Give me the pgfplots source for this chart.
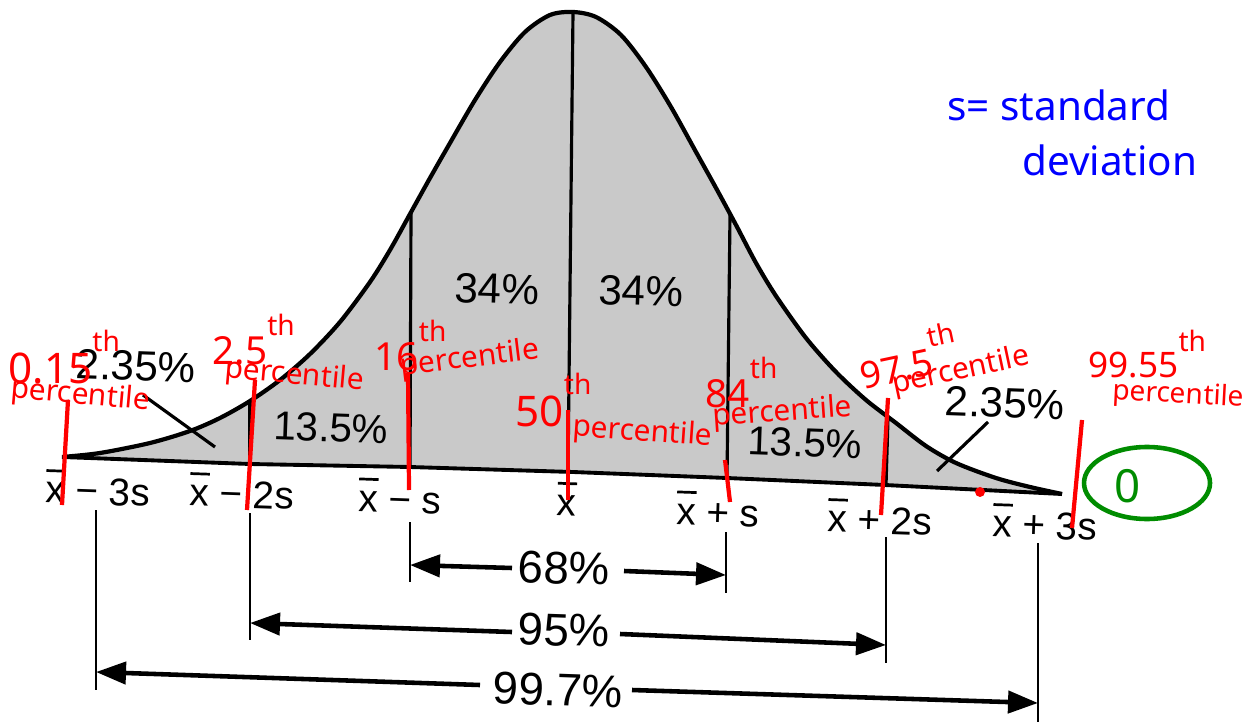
\documentclass[border=0pt]{standalone}
\usepackage{pgfplots}
\pgfplotsset{compat=1.18}
\usepackage{pgfplotstable}
\usepackage{fontspec}
\setmainfont{Liberation Sans}
\newfontfamily\hand{Noto Sans}
\usetikzlibrary{arrows.meta}

\newcommand\fs[1]{\fontsize{#1}{#1}\selectfont}
\newcommand\xb{\leavevmode\rlap{\raisebox{0.8em}{\rule{0.5em}{0.07em}}}x}
\newcommand\thx{\raisebox{0.75em}{\fs{8pt}th}}

% bell curve (image pixels, y downwards)
\pgfplotstableread{
x y
62 457
100 453
150 443
190 431
220 418
250 401
280 380
310 354
340 322
370 282
390 250
410 214
430 178
450 143
475 100
500 62
525 32
550 15
573 12
596 17
621 35
646 67
671 107
696 152
716 188
736 225
756 263
776 296
806 338
836 372
866 400
896 423
926 446
956 463
996 478
1030 487
1062 494
}\curve

% baseline, same scan
\pgfplotstableread{
x y
1062 494
885 485
727 478
573 472
410 467
250 464
62 457
}\base

\begin{document}
\begin{tikzpicture}
\begin{axis}[
  scale only axis, width=12.48cm, height=7.22cm,
  xmin=0, xmax=1248, ymin=0, ymax=722, y dir=reverse,
  hide axis, clip=false,
  every node/.append style={inner sep=0pt},
]
\coordinate (A) at (rel axis cs:0,0);
\coordinate (B) at (rel axis cs:1,1);

% shaded area
\addplot[fill=black!21, draw=none] coordinates {
 (62,457)(100,453)(150,443)(190,431)(220,418)(250,401)(280,380)(310,354)
 (340,322)(370,282)(390,250)(410,214)(430,178)(450,143)(475,100)(500,62)
 (525,32)(550,15)(573,12)(596,17)(621,35)(646,67)(671,107)(696,152)
 (716,188)(736,225)(756,263)(776,296)(806,338)(836,372)(866,400)(896,423)
 (926,446)(956,463)(996,478)(1030,487)(1062,494)
 (885,485)(727,478)(573,472)(410,467)(250,464)(62,457)} -- cycle;

% curve and baseline
\addplot[black, line width=1.2pt, smooth] table {\curve};
\addplot[black, line width=1.1pt] table {\base};

% dividers inside the curve
\addplot[black, line width=0.9pt] coordinates {(250,401)(250,464)};
\addplot[black, line width=0.9pt] coordinates {(411,213)(410,467)};
\addplot[black, line width=0.9pt] coordinates {(573,12)(568,472)};
\addplot[black, line width=0.9pt] coordinates {(730,214)(727,478)};
\addplot[black, line width=0.9pt] coordinates {(888,418)(886,485)};

% leaders for the tails
\addplot[black, line width=0.9pt] coordinates {(143,395)(215,447)};
\addplot[black, line width=0.9pt] coordinates {(988,422)(937,471)};

% dimension lines
\addplot[black, line width=0.6pt] coordinates {(96,510)(96,690)};
\addplot[black, line width=0.6pt] coordinates {(250,513)(250,640)};
\addplot[black, line width=0.6pt] coordinates {(410,522)(410,582)};
\addplot[black, line width=0.6pt] coordinates {(726,532)(726,593)};
\addplot[black, line width=0.6pt] coordinates {(886,537)(886,663)};
\addplot[black, line width=0.6pt] coordinates {(1038,543)(1038,722)};

\pgfplotsset{dim/.style={black, line width=1.3pt, -{Triangle[length=0.3cm, width=0.22cm]}}}
\addplot[dim] coordinates {(512,568)(410,565)};
\addplot[dim] coordinates {(624,571)(726,575)};
\addplot[dim] coordinates {(512,632)(250,623)};
\addplot[dim] coordinates {(620,634)(886,645)};
\addplot[dim] coordinates {(480,685)(96,672)};
\addplot[dim] coordinates {(632,690)(1038,703)};

% printed labels
\begin{scope}[every node/.style={rotate=-2, inner sep=0pt}]
\node[font=\fs{12pt}] at (136,366) {2.35\%};
\node[font=\fs{11.5pt}] at (331,428) {13.5\%};
\node[font=\fs{12pt}] at (497,289) {34\%};
\node[font=\fs{12pt}] at (641,291) {34\%};
\node[font=\fs{11.5pt}] at (805,443) {13.5\%};
\node[font=\fs{12pt}] at (1005,403) {2.35\%};
\node[font=\fs{11pt}] at (98,488) {\xb{} − 3s};
\node[font=\fs{11pt}] at (242,491) {\xb{} − 2s};
\node[font=\fs{11pt}] at (400,496) {\xb{} − s};
\node[font=\fs{11pt}] at (567,499) {\xb};
\node[font=\fs{11pt}] at (718,509) {\xb{} + s};
\node[font=\fs{11pt}] at (880,517) {\xb{} + 2s};
\node[font=\fs{11pt}] at (1045,522) {\xb{} + 3s};
\node[font=\fs{13pt}] at (564,568) {68\%};
\node[font=\fs{13pt}] at (564,630) {95\%};
\node[font=\fs{13pt}] at (558,690) {99.7\%};
\end{scope}

% red handwritten notes
\pgfplotsset{rl/.style={red, line width=1.2pt}}
\addplot[rl] coordinates {(68,400)(62,505)};
\addplot[rl] coordinates {(255,380)(247,510)};
\addplot[rl] coordinates {(408,373)(409,490)};
\addplot[rl] coordinates {(568,410)(568,500)};
\addplot[rl] coordinates {(725,460)(730,502)};
\addplot[rl] coordinates {(888,398)(881,515)};
\addplot[rl] coordinates {(1082,420)(1072,528)};
\addplot[only marks, mark=*, red, mark size=1.2pt] coordinates {(980,492)};

\begin{scope}[every node/.style={red, anchor=west, inner sep=0pt}]
\node[font=\hand\fs{12pt}] at (8,357) {0.15\thx};
\node[font=\hand\fs{8.5pt}, rotate=-5] at (10,390) {percentile};
\node[font=\hand\fs{11pt}] at (212,340) {2.5\thx};
\node[font=\hand\fs{8.5pt}, rotate=-5] at (224,370) {percentile};
\node[font=\hand\fs{11pt}] at (374,346) {16\thx};
\node[font=\hand\fs{8.5pt}, rotate=7] at (400,368) {percentile};
\node[font=\hand\fs{12pt}] at (515,400) {50\thx};
\node[font=\hand\fs{8.5pt}, rotate=-4] at (572,428) {percentile};
\node[font=\hand\fs{11pt}] at (705,383) {84\thx};
\node[font=\hand\fs{8.5pt}, rotate=4] at (712,418) {percentile};
\node[font=\hand\fs{10.5pt}, rotate=12] at (858,366) {97.5\thx};
\node[font=\hand\fs{8.5pt}, rotate=12] at (892,386) {percentile};
\node[font=\hand\fs{10pt}] at (1088,354) {99.55\thx};
\node[font=\hand\fs{8pt}, rotate=-3] at (1112,392) {percentile};
\end{scope}

% blue note and green circle
\node[blue, anchor=west, font=\hand\fs{11.5pt}] at (935,105) {s= standard};
\node[blue, anchor=west, font=\hand\fs{11.5pt}] at (1010,160) {deviation};
\draw[green!55!black, line width=1.3pt] (1147,483) ellipse [x radius=0.63cm, y radius=0.36cm];
\node[green!55!black, font=\hand\fs{13pt}] at (1128,486) {0};
\end{axis}
\pgfresetboundingbox
\path (A) rectangle (B);
\end{tikzpicture}
\end{document}
